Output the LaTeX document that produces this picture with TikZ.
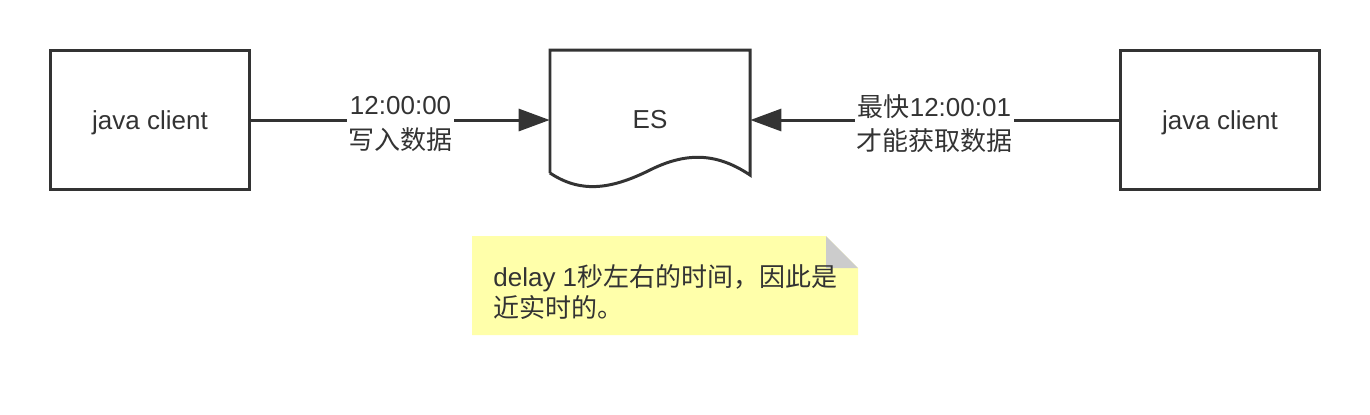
\documentclass[tikz,border=0pt]{standalone}
\usepackage{fontspec}
\setmainfont{Liberation Sans}
\newfontfamily\cjk{Noto Sans CJK SC}
\usetikzlibrary{arrows.meta}
\definecolor{ink}{HTML}{333333}
\definecolor{notefill}{HTML}{FFFFAA}
\definecolor{foldgray}{HTML}{CCCCCC}

\begin{document}
\begin{tikzpicture}[x=0.02cm, y=-0.02cm,
    every node/.style={text=ink, font=\fontsize{14.8}{19}\selectfont},
    client/.style={draw=ink, line width=1.7pt, minimum width=4cm, minimum height=2.78cm,
        text height=1.1em, text depth=0.05em},
    flow/.style={draw=ink, line width=1.7pt, -{Triangle[length=0.62cm, width=0.44cm]}},
    tag/.style={fill=white, align=center, inner sep=1pt, font=\fontsize{14.8}{19.5}\selectfont}]
    \path[use as bounding box] (0,0) rectangle (1370,414);
    \node[client] (L) at (150,120) {java client};
    \node[client] (R) at (1220,120) {java client};
    \node[minimum width=4cm, minimum height=2.8cm] (es) at (650,120) {ES};

    % document shape of ES
    \draw[ink, line width=1.7pt] (550,173) -- (550,50) -- (750,50) -- (750,175)
        .. controls (720,155) and (690,150) .. (650,170)
        .. controls (610,190) and (580,193) .. (550,173);

    \draw[flow] (L.east) -- node[tag, yshift=-0.08cm] {12:00:00\\{\cjk 写入数据}} (es.west);
    \draw[flow] (R.west) -- node[tag, yshift=-0.08cm] {{\cjk 最快}12:00:01\\{\cjk 才能获取数据}} (es.east);

    % note
    \fill[notefill] (472,236) -- (826,236) -- (858,268) -- (858,335) -- (472,335) -- cycle;
    \fill[foldgray] (826,236) -- (826,268) -- (858,268) -- cycle;
    \node[anchor=west, align=left, inner sep=0pt, font=\fontsize{14.8}{17.5}\selectfont] (note) at (493,292)
        {delay 1{\cjk 秒左右的时间，因此是}\\{\cjk 近实时的。}};
\end{tikzpicture}
\end{document}
